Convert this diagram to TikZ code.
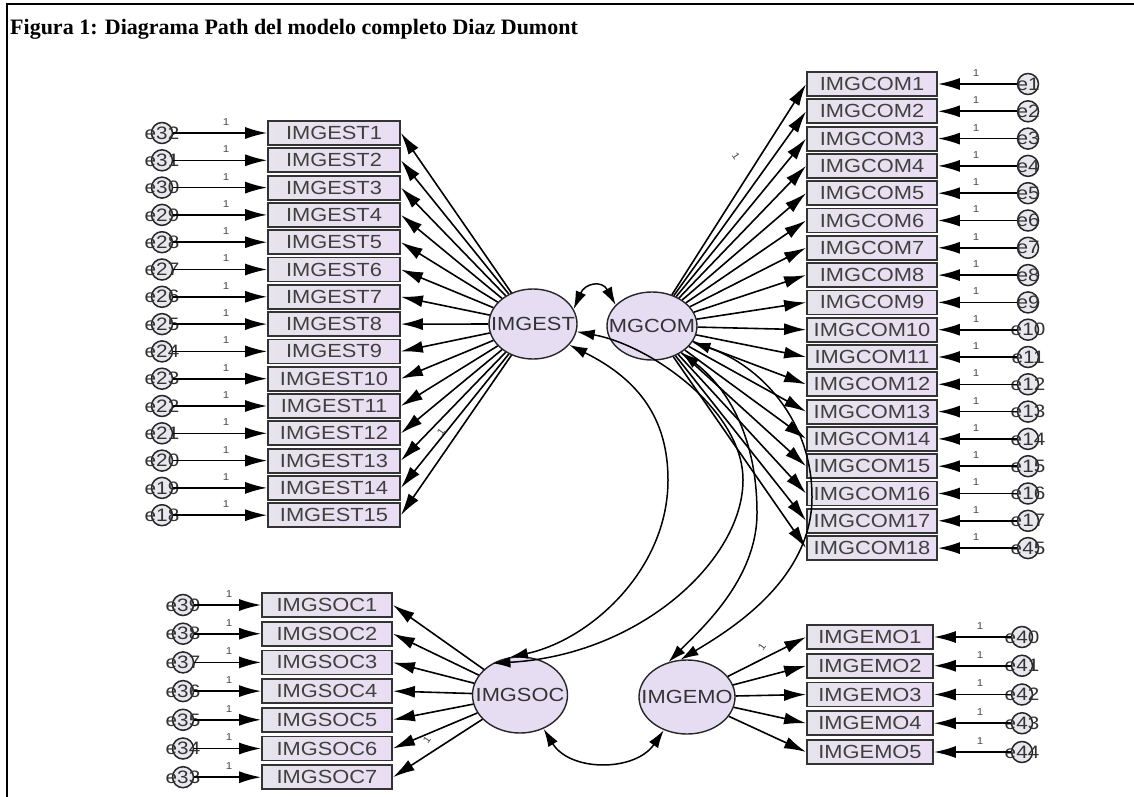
\documentclass[tikz,border=0pt]{standalone}
\usepackage{fontspec}
\setmainfont{Liberation Serif}
\newfontfamily\amosfont[FakeStretch=1.15]{Liberation Sans}
\usepackage{tikz}
\usetikzlibrary{arrows.meta,shapes.geometric}
\definecolor{boxleft}{HTML}{E6E4EC}
\definecolor{boxright}{HTML}{E9DDF3}
\definecolor{latfill}{HTML}{E6DDF3}
\definecolor{errfill}{HTML}{E9E7EE}
\tikzset{
	obs/.style={draw=black!80, line width=1.8pt, left color=boxleft, right color=boxright, minimum width=130pt, minimum height=24pt, inner sep=0pt, text=black!75, font=\amosfont\fontsize{19}{19}\selectfont},
	lat/.style={ellipse, draw=black!85, line width=1.4pt, fill=latfill, inner sep=0pt},
	latname/.style={font=\amosfont\fontsize{19}{19}\selectfont, text=black!80},
	err/.style={circle, draw=black!85, line width=1.5pt, fill=errfill, minimum size=21pt, inner sep=0pt},
	errname/.style={font=\amosfont\fontsize{18}{18}\selectfont, text=black!80},
	load/.style={-{Latex[length=22pt,width=12pt]}, line width=1.6pt},
	cov/.style={{Latex[length=18pt,width=11pt]}-{Latex[length=18pt,width=11pt]}, line width=1.5pt},
	one/.style={font=\amosfont\fontsize{10}{10}\selectfont, text=black!70, inner sep=0pt},
}

\begin{document}
\begin{tikzpicture}[x=1pt, y=-1pt]
	%%%%% START %%%%%
	\useasboundingbox (0,0) rectangle (1134,797);
	\draw[line width=2pt] (7,797) -- (7,4) -- (1134,4);
	\node[anchor=base west, inner sep=0pt, font=\bfseries\fontsize{22}{24}\selectfont] (title) at (10,35) {Figura 1: Diagrama Path del modelo completo Diaz Dumont};
	
	% latent variables
	\node[lat, minimum width=88pt, minimum height=70pt, label={[latname]center:IMGEST}] (est) at (533,324) {};
	\node[lat, minimum width=90pt, minimum height=68pt, label={[latname]center:MGCOM}] (com) at (652,326) {};
	\node[lat, minimum width=95pt, minimum height=76pt, label={[latname]center:IMGSOC}] (soc) at (520,695) {};
	\node[lat, minimum width=96pt, minimum height=74pt, label={[latname]center:IMGEMO}] (emo) at (687,697) {};
	
	% IMGEST block
	\foreach \i [evaluate=\i as \y using 133+(\i-1)*27.3, evaluate=\i as \e using int(33-\i)] in {1,...,15} {
		\node[obs, minimum width=132pt] (gest\i) at (334,\y) {IMGEST\i};
		\node[err, label={[errname]center:e\e}] (eest\i) at (162,\y) {};
		\draw[load] (eest\i) -- (gest\i.west);
		\node[one] at (226,\y-11) {1};
		\draw[load] (est) -- (gest\i.east);
	}
	
	% IMGCOM block (last error term is e45)
	\foreach \i [evaluate=\i as \y using 84+(\i-1)*27.3] in {1,...,18} {
		\ifnum\i=18 \def\e{45}\else \let\e\i \fi
		\node[obs] (gcom\i) at (872,\y) {IMGCOM\i};
		\node[err, label={[errname]center:e\e}] (ecom\i) at (1028,\y) {};
		\draw[load] (ecom\i) -- (gcom\i.east);
		\node[one] at (976,\y-11) {1};
		\draw[load] (com) -- (gcom\i.west);
	}
	
	% IMGSOC block
	\foreach \i [evaluate=\i as \y using 605+(\i-1)*28.7, evaluate=\i as \e using int(40-\i)] in {1,...,7} {
		\node[obs] (gsoc\i) at (327,\y) {IMGSOC\i};
		\node[err, label={[errname]center:e\e}] (esoc\i) at (183,\y) {};
		\draw[load] (esoc\i) -- (gsoc\i.west);
		\node[one] at (229,\y-11) {1};
		\draw[load] (soc) -- (gsoc\i.east);
	}
	
	% IMGEMO block
	\foreach \i [evaluate=\i as \y using 637+(\i-1)*28.75, evaluate=\i as \e using int(39+\i)] in {1,...,5} {
		\node[obs, minimum width=126pt] (gemo\i) at (870,\y) {IMGEMO\i};
		\node[err, label={[errname]center:e\e}] (eemo\i) at (1022,\y) {};
		\draw[load] (eemo\i) -- (gemo\i.east);
		\node[one] at (980,\y-11) {1};
		\draw[load] (emo) -- (gemo\i.west);
	}
	
	% fixed loadings
	\node[one, rotate=55] at (441,432) {1};
	\node[one, rotate=-55] at (736,156) {1};
	\node[one, rotate=55] at (427,740) {1};
	\node[one, rotate=55] at (762,647) {1};
	
	% covariances
	\draw[cov] (est.20) .. controls (585,283) and (602,280) .. (com.150);
	\draw[cov] (est.-30) .. controls (640,380) and (668,420) .. (668,480) .. controls (668,570) and (590,640) .. (soc.105);
	\draw[cov] (est.-10) .. controls (650,345) and (743,410) .. (743,480) .. controls (743,560) and (640,655) .. (soc.131);
	\draw[cov] (com.-42) .. controls (730,390) and (757,440) .. (757,513) .. controls (757,580) and (700,630) .. (emo.118);
	\draw[cov] (com.-22) .. controls (760,365) and (812,420) .. (812,497) .. controls (812,580) and (730,630) .. (emo.100);
	\draw[cov] (soc.-55) .. controls (570,772) and (635,772) .. (emo.-125);
	%%%%% END %%%%%
\end{tikzpicture}
\end{document}
